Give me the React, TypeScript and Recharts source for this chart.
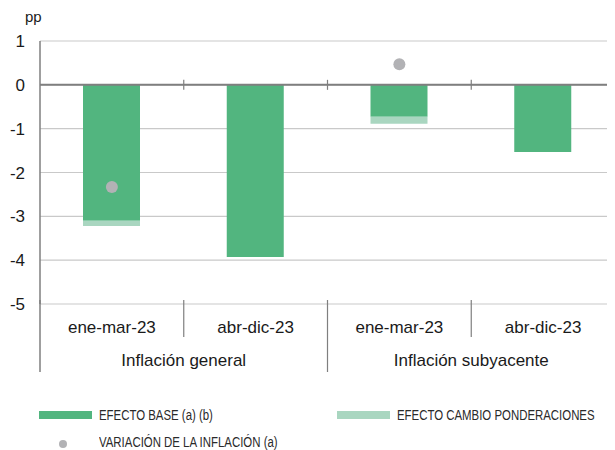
import { Bar, CartesianGrid, ComposedChart, Line, ReferenceLine, XAxis, YAxis } from "recharts";

const periods = ["ene-mar-23", "abr-dic-23", "ene-mar-23", "abr-dic-23"];
const groups = ["Inflación general", "Inflación subyacente"];
const baseEffect = [-3.1, -3.93, -0.73, -1.53];
const weightEffect = [-0.12, 0, -0.16, 0];
const inflationChange = [-2.33, null, 0.47, null];
const yTicks = [-5, -4, -3, -2, -1, 0, 1];

const GREEN = "#52b57f";
const LIGHT = "#a9d6c0";
const DOT = "#b2b2b5";
const AXIS = "#7f7f7f";
const TEXT = "#1a1a1a";
const FONT = "'Liberation Sans', Arial, Helvetica, sans-serif";

// plot geometry (used only for axis decorations)
const TOP = 41;
const PLOT_H = 263;
const PLOT_W = 575;
const HALF = PLOT_W / periods.length / 2;
const BOTTOM = TOP + PLOT_H;
const ZERO_Y = TOP + PLOT_H / 6;

const data = periods.map((p, i) => ({
  key: String(i),
  base: baseEffect[i],
  weight: weightEffect[i],
  change: inflationChange[i],
}));

const PeriodTick = (props: any) => {
  const { x, index } = props;
  const right = x + HALF;
  const groupEnd = index % 2 === 1;
  return (
    <g>
      {index === 0 && (
        <line x1={x - HALF} x2={x - HALF} y1={BOTTOM - 4} y2={372} stroke={AXIS} strokeWidth={1.5} />
      )}
      <line x1={right} x2={right} y1={BOTTOM - 4} y2={groupEnd ? 372 : 337} stroke={AXIS} strokeWidth={1.2} />
      <line x1={right} x2={right} y1={ZERO_Y - 5} y2={ZERO_Y + 5} stroke={AXIS} strokeWidth={1.2} />
      <text x={x} y={333} textAnchor="middle" fontSize={17} fill={TEXT} fontFamily={FONT}>
        {periods[index]}
      </text>
      {index % 2 === 0 && (
        <text x={right} y={366} textAnchor="middle" fontSize={17} fill={TEXT} fontFamily={FONT}>
          {groups[index / 2]}
        </text>
      )}
    </g>
  );
};

const ChangeDot = (props: any) => {
  const { cx, cy, value } = props;
  if (value == null || cy == null) return <g key={props.key} />;
  return <circle key={props.key} cx={cx} cy={cy} r={6} fill={DOT} />;
};

const narrow = {
  position: "absolute" as const,
  fontFamily: FONT,
  fontSize: 14,
  color: "#2a2a2a",
  whiteSpace: "nowrap" as const,
  lineHeight: "16px",
  transform: "scaleX(0.815)",
  transformOrigin: "left center",
};

const LegendBox = () => (
  <div style={{ position: "absolute", left: 0, top: 400, width: 615, height: 50, overflow: "hidden" }}>
    <div style={{ position: "absolute", left: 39, top: 11, width: 53, height: 8, background: GREEN }} />
    <div style={{ ...narrow, left: 99, top: 7 }}>EFECTO BASE (a) (b)</div>
    <div style={{ position: "absolute", left: 337, top: 11, width: 53, height: 8, background: LIGHT }} />
    <div style={{ ...narrow, left: 397, top: 7 }}>EFECTO CAMBIO PONDERACIONES</div>
    <div style={{ position: "absolute", left: 59, top: 40, width: 8, height: 8, borderRadius: 4, background: DOT }} />
    <div style={{ ...narrow, left: 99, top: 34 }}>VARIACIÓN DE LA INFLACIÓN (a)</div>
  </div>
);

export default function App() {
  return (
    <div style={{ marginTop: -8, marginLeft: -8, position: "relative", width: 615, height: 450, overflow: "hidden" }}>
      <ComposedChart
        width={615}
        height={450}
        data={data}
        margin={{ top: TOP, right: 0, left: 0, bottom: 450 - BOTTOM - 70 }}
      >
        <text x={25} y={22} fontSize={15} fill={TEXT} fontFamily={FONT}>
          pp
        </text>
        <CartesianGrid vertical={false} stroke="#c9c9c9" strokeWidth={1.2} />
        <XAxis
          dataKey="key"
          axisLine={false}
          tickLine={false}
          height={70}
          interval={0}
          tick={<PeriodTick />}
        />
        <YAxis
          width={40}
          domain={[-5, 1]}
          ticks={yTicks}
          interval={0}
          axisLine={{ stroke: AXIS, strokeWidth: 1.5 }}
          tickLine={false}
          tickSize={0}
          tickMargin={15}
          tick={{ fontSize: 17, fill: TEXT, fontFamily: FONT }}
        />
        <Bar dataKey="base" stackId="a" fill={GREEN} barSize={57} isAnimationActive={false} />
        <Bar dataKey="weight" stackId="a" fill={LIGHT} barSize={57} isAnimationActive={false} />
        <ReferenceLine y={0} stroke={AXIS} strokeWidth={2} />
        <Line
          dataKey="change"
          stroke="none"
          dot={<ChangeDot />}
          activeDot={false}
          connectNulls={false}
          isAnimationActive={false}
        />
      </ComposedChart>
      <LegendBox />
    </div>
  );
}
